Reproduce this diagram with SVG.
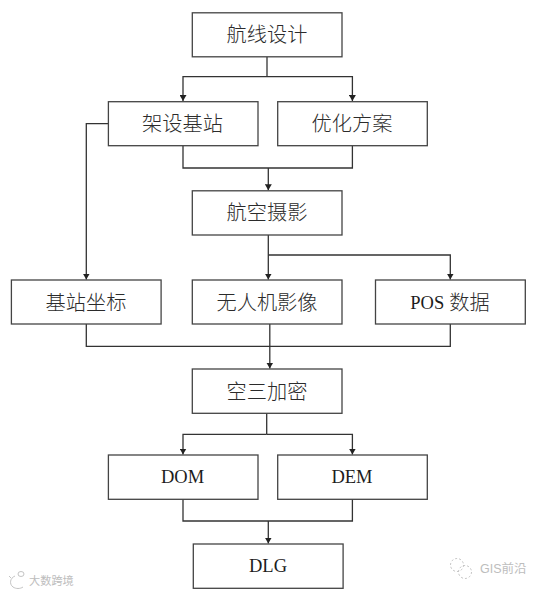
<svg xmlns="http://www.w3.org/2000/svg" width="543" height="593" viewBox="0 0 543 593">
<style>
.box{fill:#fff;stroke:#444;stroke-width:1.3}
.t{font-family:"Liberation Serif","Noto Sans CJK SC",serif;font-size:20.2px;fill:#2b2b2b;text-anchor:middle;dominant-baseline:central;font-weight:300}
.l{font-family:"Liberation Serif",serif;font-size:18.5px;fill:#1c1c1c;text-anchor:middle;dominant-baseline:central}
.c{fill:none;stroke:#333;stroke-width:1.3}
.w{font-family:"Liberation Sans","Noto Sans CJK SC",sans-serif;fill:#bdbdbd;dominant-baseline:central}
.wi{fill:none;stroke:#c4c4c4;stroke-width:1}
</style>
<defs>
<marker id="a" markerUnits="userSpaceOnUse" markerWidth="7" markerHeight="7" refX="6" refY="3.5" orient="auto"><path d="M0 0L6 3.5L0 7z" fill="#222"/></marker>
</defs>
<rect width="543" height="593" fill="#fff"/>
<g id="connectors">
<path class="c" d="M267 56.7V77"/>
<path class="c" marker-end="url(#a)" d="M267 76.7H183V101"/>
<path class="c" marker-end="url(#a)" d="M267 76.7H352.4V101"/>
<path class="c" marker-end="url(#a)" d="M108.4 123.7H86.3V279.5"/>
<path class="c" d="M183 145.7V168H352.4V145.7"/>
<path class="c" marker-end="url(#a)" d="M268.3 168V190.2"/>
<path class="c" marker-end="url(#a)" d="M268.3 235V279.5"/>
<path class="c" marker-end="url(#a)" d="M268.3 255H450.3V279.5"/>
<path class="c" d="M86.3 324V346.3H450.3V324"/>
<path class="c" marker-end="url(#a)" d="M269.8 324V368.5"/>
<path class="c" d="M266.7 413.3V434.3"/>
<path class="c" marker-end="url(#a)" d="M266.7 434.3H183V454.5"/>
<path class="c" marker-end="url(#a)" d="M266.7 434.3H352.4V454.5"/>
<path class="c" d="M183 499.3V521H352.4V499.3"/>
<path class="c" marker-end="url(#a)" d="M268.3 521V543.5"/>
</g>
<g id="n1"><rect class="box" x="192.3" y="12.8" width="149.7" height="44"/><text class="t" x="267" y="35">航线设计</text></g>
<g id="n2"><rect class="box" x="108.4" y="101.7" width="149.6" height="44"/><text class="t" x="182.5" y="124">架设基站</text></g>
<g id="n3"><rect class="box" x="277.7" y="101.7" width="149.6" height="44"/><text class="t" x="352" y="124">优化方案</text></g>
<g id="n4"><rect class="box" x="192.3" y="190.8" width="149.7" height="44.2"/><text class="t" x="267" y="213">航空摄影</text></g>
<g id="n5"><rect class="box" x="11.4" y="280" width="149.7" height="44"/><text class="t" x="86" y="302.5">基站坐标</text></g>
<g id="n6"><rect class="box" x="192.3" y="280" width="149.7" height="44"/><text class="t" x="267" y="302.5">无人机影像</text></g>
<g id="n7"><rect class="box" x="375.5" y="280" width="149.8" height="44"/><text class="t" x="450" y="302.5"><tspan class="l">POS</tspan> 数据</text></g>
<g id="n8"><rect class="box" x="192.3" y="369" width="149.7" height="44.3"/><text class="t" x="267" y="392">空三加密</text></g>
<g id="n9"><rect class="box" x="108.4" y="455" width="149.6" height="44.3"/><text class="l" x="182.5" y="477">DOM</text></g>
<g id="n10"><rect class="box" x="277.7" y="455" width="149.6" height="44.3"/><text class="l" x="352" y="477">DEM</text></g>
<g id="n11"><rect class="box" x="193.3" y="544" width="149.8" height="44.3"/><text class="l" x="268" y="566">DLG</text></g>
<g id="watermarks">
<path class="wi" d="M15 576c-5 2-6 8-2 11 3 2 7 2 10 0M9 576l2 2M18 574a3 2.5 0 1 0 6 0a3 2.5 0 1 0-6 0"/>
<text class="w" x="29" y="581" font-size="11.2">大数跨境</text>
<circle class="wi" cx="457" cy="565" r="6.5" stroke-dasharray="2 2"/>
<circle class="wi" cx="465" cy="572" r="6.5" stroke-dasharray="2 2"/>
<text class="w" x="480" y="569" font-size="12.5">GIS前沿</text>
</g>
</svg>
